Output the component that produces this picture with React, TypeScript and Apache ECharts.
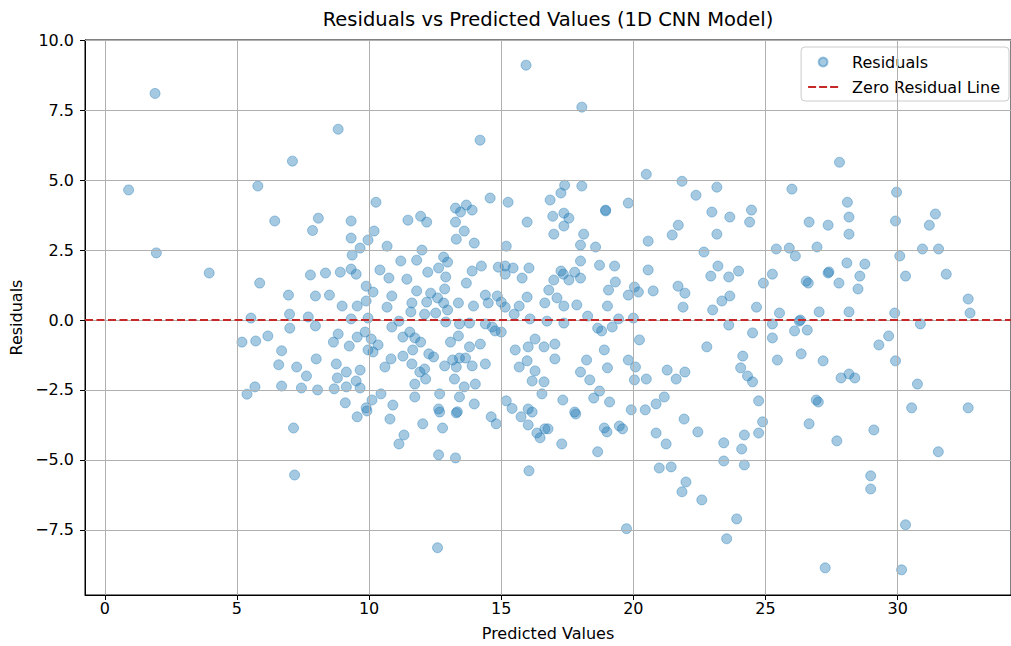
import React, { useEffect, useRef } from "react";
import * as echarts from "echarts";

// Predicted values (x) and residuals (y)
const predicted: number[] = [
  0.9, 1.9, 1.95, 3.95, 5.53, 5.19, 5.71, 6.17, 5.86, 6.95, 6.99, 7.0, 7.7, 7.78, 7.97, 7.97, 6.69, 6.58, 7.26, 7.63,
  8.0, 5.68, 5.38, 6.69, 7.44, 8.05, 6.43, 7.86, 7.1, 5.79, 8.08, 7.14, 7.18, 15.94, 8.83, 14.2, 10.26, 14.58, 15.26, 9.32,
  11.47, 11.95, 12.18, 13.27, 13.46, 13.68, 13.9, 13.27, 15.98, 18.05, 20.49, 17.4, 18.05, 17.26, 16.85, 16.95, 17.37, 17.56, 17.37, 18.95,
  18.95, 19.81, 21.84, 22.37, 23.16, 22.97, 23.65, 24.47, 24.4, 21.7, 27.8, 26.0, 28.1, 28.16, 26.65, 27.37, 29.96, 29.92, 31.43, 31.2,
  28.16, 25.41, 25.9, 26.13, 26.95, 30.08, 30.94, 31.55, 25.26, 27.37, 27.4, 26.54, 26.62, 28.08, 28.76, 28.57, 27.78, 28.5, 30.3, 31.84,
  32.67, 32.74, 25.53, 27.03, 28.16, 29.89, 25.26, 26.28, 26.32, 26.1, 26.58, 30.86, 25.26, 29.66, 29.29, 26.35, 25.45, 27.18, 29.92, 27.86,
  28.16, 28.38, 30.75, 26.92, 27.0, 30.53, 32.67, 26.65, 27.7, 29.1, 31.54, 28.98, 28.98, 30.3, 27.26, 30.15, 19.74, 23.53, 23.91, 22.59,
  21.99, 21.84, 20.98, 21.43, 23.42, 24.2, 24.1, 23.42, 24.2, 24.74, 24.89, 22.44, 21.92, 20.86, 21.24, 18.65, 17.29, 17.82, 16.77, 18.9,
  19.0, 19.47, 19.59, 19.92, 20.45, 12.59, 16.05, 12.63, 13.27, 11.13, 11.32, 12.03, 12.78, 10.79, 9.55, 9.92, 12.67, 13.3, 13.34, 14.62,
  14.81, 15.41, 15.75, 16.17, 16.02, 16.35, 16.47, 16.65, 10.19, 9.96, 9.32, 9.66, 9.36, 10.68, 13.3, 13.6, 13.98, 15.19, 11.2, 11.8,
  12.0, 12.82, 12.97, 12.22, 12.63, 12.9, 11.43, 10.75, 10.41, 9.51, 9.32, 8.91, 8.35, 9.89, 10.15, 8.5, 8.98, 9.55, 9.89, 10.86,
  10.68, 11.62, 11.8, 12.33, 12.18, 12.59, 12.82, 12.86, 12.97, 13.38, 13.68, 13.9, 14.25, 14.4, 13.95, 14.51, 14.89, 15.15, 15.45, 15.15,
  15.79, 16.05, 14.85, 15.0, 15.15, 15.98, 15.68, 16.65, 15.49, 16.09, 9.32, 9.96, 11.13, 10.86, 11.58, 12.1, 12.52, 12.9, 13.42, 13.8,
  14.4, 14.66, 14.77, 15.0, 8.83, 8.65, 9.25, 9.55, 9.85, 10.08, 10.34, 9.96, 10.15, 11.28, 11.54, 11.73, 11.95, 11.65, 11.28, 10.83,
  10.6, 8.76, 9.14, 9.66, 8.8, 9.51, 8.68, 9.14, 9.66, 9.1, 9.89, 10.11, 10.45, 10.9, 12.26, 12.44, 12.1, 11.62, 11.92, 12.14,
  11.73, 12.67, 11.73, 13.08, 13.38, 13.8, 14.21, 13.16, 13.42, 13.65, 12.86, 13.3, 13.9, 14.4, 13.23, 13.6, 14.02, 13.42, 13.98, 12.63,
  15.53, 15.68, 16.02, 16.28, 16.62, 15.98, 16.28, 16.17, 16.62, 15.19, 16.54, 16.02, 16.99, 18.12, 18.0, 18.57, 20.56, 21.47, 23.16, 22.67,
  18.0, 18.72, 19.29, 17.26, 17.35, 17.78, 18.0, 17.56, 16.99, 16.8, 17.11, 17.37, 17.86, 19.02, 19.32, 19.06, 19.81, 20.04, 20.19, 20.56,
  20.75, 21.69, 21.95, 21.88, 23.0, 23.35, 23.65, 22.93, 23.2, 23.61, 23.98, 24.66, 24.92, 16.73, 17.37, 18.27, 18.65, 18.8, 19.2, 19.44,
  20.0, 23.61, 24.51, 20.23, 17.03, 17.03, 18.9, 18.23, 19.02, 18.0, 18.35, 19.81, 20.08, 20.04, 20.49, 21.28, 21.62, 21.95, 22.78, 24.14,
  24.06, 24.32, 24.51, 17.33, 17.78, 18.72, 18.5, 19.1, 20.86, 21.17, 24.74,
];

const residuals: number[] = [
  4.65, 8.1, 2.4, 1.68, 0.07, -0.79, -0.75, -0.57, 1.32, 0.89, 0.21, -0.29, 0.11, 1.61, 0.86, -0.21, -1.1, -1.6, -1.68, -2.0,
  -1.39, -2.39, -2.65, -2.36, -2.43, -2.5, 3.54, 3.2, 5.68, 4.79, 3.64, -3.86, -5.54, 9.11, 6.82, 6.43, 4.21, 4.36, 4.21, 3.54,
  3.57, 3.71, 3.5, 4.0, 3.86, 4.11, 3.93, 3.5, 3.5, 7.61, 5.21, 4.82, 4.79, 4.54, 4.29, 3.71, 3.82, 3.64, 3.36, 3.93,
  3.9, 4.18, 4.96, 4.46, 4.75, 3.86, 3.68, 3.93, 3.5, 3.39, 5.64, 4.68, 4.21, 3.68, 3.5, 3.39, 4.57, 3.54, 3.79, 3.39,
  3.07, 2.54, 2.57, 2.29, 2.61, 2.29, 2.54, 2.54, 1.64, 1.68, 1.72, 1.39, 1.32, 2.04, 2.0, 1.57, 1.32, 1.11, 1.57, 1.64,
  0.75, 0.25, 0.25, 0.29, 0.29, 0.25, -0.14, -0.04, 0.0, -0.39, -0.36, -0.14, -0.64, -0.57, -0.89, -1.21, -1.43, -1.46, -1.46, -2.07,
  -1.93, -2.07, -2.29, -2.86, -2.93, -3.14, -3.14, -3.71, -4.32, -3.93, -4.71, -5.57, -6.04, -7.32, -8.86, -8.93, -7.46, -7.82, -7.11, -6.43,
  -5.79, -6.14, -5.29, -5.25, -5.04, -5.18, -4.61, -4.39, -4.11, -4.04, -3.64, -4.0, -3.54, -4.04, -4.43, -4.71, -4.43, -3.36, -3.89, -3.86,
  -4.0, -3.79, -3.89, -3.21, -3.21, -8.14, -5.39, -4.82, -4.93, -4.43, -4.11, -3.71, -3.86, -3.54, -3.46, -3.25, -3.29, -3.32, -3.28, -3.46,
  -3.71, -3.16, -3.46, -3.29, -3.75, -4.04, -4.21, -3.89, 3.18, 2.86, 2.93, 2.57, 2.32, 2.64, 2.89, 3.18, 2.75, 2.64, 2.11, 2.14,
  2.5, 2.25, 2.07, 1.71, 1.86, 1.54, 1.46, 1.5, 1.79, 1.64, 1.82, 1.71, 1.68, 1.21, 1.0, 0.89, 0.5, 0.5, 0.68, 0.86,
  0.46, 0.61, 1.04, 0.96, 0.64, 0.79, 0.61, 1.11, 0.36, 0.61, 1.32, 1.75, 1.93, 0.89, 0.5, 0.61, 1.89, 1.93, 1.86, 1.64,
  1.5, 1.86, 0.86, 0.64, 0.46, 0.82, 0.5, 0.61, 0.21, 0.04, 0.04, 0.07, -0.04, -0.25, 0.29, 0.21, 0.25, -0.07, -0.14, -0.11,
  -0.14, -0.25, -0.39, -0.43, -0.5, -0.79, -0.93, -0.61, -0.43, -0.68, -0.89, -1.07, -1.14, -0.61, -0.43, -0.64, -0.79, -1.07, -1.29, -1.39,
  -1.68, -1.57, -1.86, -1.79, -2.07, -2.18, -2.46, -2.39, -2.43, -2.96, -3.14, -2.86, -2.64, -3.04, -1.21, -1.32, -1.75, -1.57, -1.86, -2.11,
  -2.29, -2.64, -2.75, -0.79, -0.57, -0.96, -0.86, -1.43, -1.36, -1.36, -1.64, -1.68, -1.64, -1.57, -2.11, -2.39, -2.29, -2.75, -3.0, -3.18,
  -1.07, -1.68, -0.96, -0.68, -0.96, -1.46, -1.82, -2.18, -2.21, -2.89, -2.64, -3.18, 3.07, 3.07, 2.68, 2.61, 2.82, 3.04, 3.07, 2.43,
  2.11, 1.96, 1.93, 1.75, 1.64, 1.71, 1.5, 1.43, 1.43, 1.07, 0.79, 0.5, 0.54, 0.5, 1.36, 1.07, 0.89, 1.18, 1.0, 1.79,
  1.04, 1.21, 0.96, 0.46, 0.36, 0.68, 0.86, 1.57, 1.93, 1.54, 1.75, 0.46, 1.32, -0.04, -0.11, 0.14, -0.29, -0.39, -0.25, 0.04,
  0.07, -0.18, -0.46, -0.71, -0.86, -1.39, -1.07, -1.43, -1.71, -1.86, -2.14, -1.43, -1.68, -2.14, -2.11, -1.79, -2.11, -1.86, -0.96, -1.29,
  -1.71, -2.0, -2.21, -2.86, -3.29, -2.54, -2.79, -2.93, -3.0, -2.75, -2.89,
];

const xTicks: number[] = [0, 5, 10, 15, 20, 25, 30];
const yTicks: number[] = [-7.5, -5, -2.5, 0, 2.5, 5, 7.5, 10];

const X_MIN = -0.75;
const X_MAX = 34.29;
const Y_MIN = -9.83;
const Y_MAX = 10.01;

const FONT = "DejaVu Sans";
const ZERO_RED = "#c62828";

export default function App() {
  const ref = useRef<HTMLDivElement>(null);

  useEffect(() => {
    if (!ref.current) return;
    const chart = echarts.init(ref.current, undefined, { renderer: "svg" });
    const n = Math.min(predicted.length, residuals.length);
    const points: number[][] = [];
    for (let i = 0; i < n; i++) points.push([predicted[i], residuals[i]]);

    const fmtY = (v: number) => {
      const s = Math.abs(v).toFixed(1);
      return v < 0 ? "\u2212" + s : s;
    };

    chart.setOption({
      animation: false,
      backgroundColor: "#ffffff",
      textStyle: { fontFamily: FONT },
      title: {
        text: "Residuals vs Predicted Values (1D CNN Model)",
        left: 548,
        top: 9,
        textAlign: "center",
        padding: 0,
        textStyle: { fontFamily: FONT, fontSize: 19.5, fontWeight: "normal", color: "#000" },
      },
      legend: {
        orient: "vertical",
        right: 2,
        top: 47,
        padding: [7, 9, 6, 7],
        itemGap: 9,
        itemWidth: 30,
        itemHeight: 9,
        symbolKeepAspect: true,
        backgroundColor: "rgba(255,255,255,0.8)",
        borderColor: "#cccccc",
        borderWidth: 1,
        borderRadius: 4,
        textStyle: { fontFamily: FONT, fontSize: 16, color: "#000", padding: [0, 0, 0, 9] },
        data: [
          { name: "Residuals", icon: "circle" },
          {
            name: "Zero Residual Line",
            icon: "path://M0,0 L8,0 L8,2 L0,2 Z M11,0 L19,0 L19,2 L11,2 Z M22,0 L30,0 L30,2 L22,2 Z",
            itemStyle: { color: ZERO_RED },
          },
        ],
      },
      grid: {
        left: 85,
        top: 40,
        right: -5,
        bottom: 50,
        show: true,
        borderColor: "#000",
        borderWidth: 1,
        backgroundColor: "transparent",
      },
      xAxis: {
        type: "value",
        min: X_MIN,
        max: X_MAX,
        splitLine: { show: false },
        axisLine: { show: true, onZero: false, lineStyle: { color: "#000", width: 1 } },
        axisTick: { show: true, length: 5, lineStyle: { color: "#000" }, customValues: xTicks },
        axisLabel: {
          customValues: xTicks,
          color: "#000",
          fontFamily: FONT,
          fontSize: 16,
          margin: 5,
        },
        name: "Predicted Values",
        nameLocation: "middle",
        nameGap: 30,
        nameTextStyle: { fontFamily: FONT, fontSize: 16, color: "#000" },
      },
      yAxis: {
        type: "value",
        min: Y_MIN,
        max: Y_MAX,
        splitLine: { show: false },
        axisLine: { show: true, onZero: false, lineStyle: { color: "#000", width: 1 } },
        axisTick: { show: true, length: 5, lineStyle: { color: "#000" }, customValues: yTicks },
        axisLabel: {
          customValues: yTicks,
          color: "#000",
          fontFamily: FONT,
          fontSize: 16,
          margin: 11,
          formatter: (v: number) => fmtY(v),
        },
        name: "Residuals",
        nameLocation: "middle",
        nameGap: 58,
        nameTextStyle: { fontFamily: FONT, fontSize: 16, color: "#000" },
      },
      series: [
        {
          name: "Residuals",
          type: "scatter",
          z: 2,
          symbol: "circle",
          symbolSize: 10,
          data: points,
          itemStyle: {
            color: "rgba(31,119,180,0.5)",
            borderColor: "rgba(31,119,180,0.5)",
            borderWidth: 1,
          },
          emphasis: { disabled: true },
        },
        {
          name: "grid",
          type: "line",
          z: 3,
          data: [],
          silent: true,
          markLine: {
            silent: true,
            symbol: ["none", "none"],
            label: { show: false },
            lineStyle: { color: "#b0b0b0", width: 1, type: "solid" },
            emphasis: { disabled: true },
            data: [
              ...xTicks.map((v) => ({ xAxis: v })),
              ...yTicks.map((v) => ({ yAxis: v })),
            ],
          },
        },
        {
          name: "Zero Residual Line",
          type: "line",
          z: 5,
          symbol: "none",
          silent: true,
          clip: false,
          data: [
            [X_MIN, 0],
            [X_MAX, 0],
          ],
          itemStyle: { color: ZERO_RED },
          lineStyle: { color: ZERO_RED, width: 2, type: [8, 3.5], opacity: 1 },
        },
      ],
    });

    return () => chart.dispose();
  }, []);

  return <div ref={ref} style={{ width: 1011, height: 646, position: "absolute", left: 0, top: 0 }} />;
}
